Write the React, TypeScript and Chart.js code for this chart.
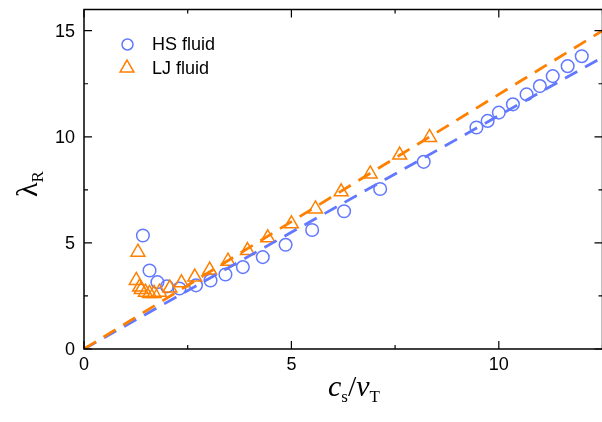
import React, { useEffect, useRef } from "react";
import { Chart, registerables } from "chart.js";

Chart.register(...registerables);

// HS fluid (circles)
const hsX = [1.42, 1.58, 1.77, 2.0, 2.3, 2.7, 3.05, 3.41, 3.83, 4.31, 4.86, 5.5, 6.27, 7.14, 8.19, 9.46, 9.73, 10.0, 10.34, 10.67, 10.99, 11.3, 11.66, 12.0];
const hsY = [5.35, 3.7, 3.15, 2.95, 2.85, 3.0, 3.23, 3.51, 3.86, 4.33, 4.91, 5.61, 6.49, 7.54, 8.82, 10.44, 10.75, 11.14, 11.53, 12.0, 12.39, 12.86, 13.33, 13.8];

// LJ fluid (triangles)
const ljX = [1.3, 1.26, 1.34, 1.38, 1.48, 1.58, 1.69, 1.82, 2.07, 2.35, 2.67, 3.03, 3.47, 3.94, 4.43, 5.0, 5.58, 6.2, 6.9, 7.61, 8.33];
const ljY = [4.56, 3.23, 2.92, 2.8, 2.68, 2.62, 2.62, 2.68, 2.87, 3.12, 3.39, 3.72, 4.14, 4.64, 5.24, 5.9, 6.6, 7.41, 8.25, 9.14, 9.97];

// dashed fit lines
const fitX = [0, 12.5];
const hsFitY = [0, 13.75];
const ljFitY = [0, 15.0];

const xTickLabels = ["0", "5", "10"];
const yTickLabels = ["0", "5", "10", "15"];

const seriesNames = ["HS fluid", "LJ fluid"];

const BLUE = "#6279ff";
const ORANGE = "#ff8000";

const pts = (xs: number[], ys: number[]) => xs.map((x, i) => ({ x, y: ys[i] }));

const SERIF = "'Liberation Serif', 'Times New Roman', serif";

const framePlugin = {
  id: "framePlugin",
  afterDraw(chart: any) {
    const ctx = chart.ctx;
    const { left, right, top, bottom } = chart.chartArea;
    const xs = chart.scales.x;
    const ys = chart.scales.y;
    ctx.save();
    ctx.strokeStyle = "#000";
    ctx.lineWidth = 1.5;
    ctx.strokeRect(left, top, right - left, bottom - top);
    // ticks
    ctx.lineWidth = 1.2;
    xs.ticks.forEach((t: any) => {
      const px = xs.getPixelForValue(t.value);
      const major = Math.abs(t.value % 5) < 1e-6;
      const len = major ? 8 : 4;
      ctx.beginPath();
      ctx.moveTo(px, bottom);
      ctx.lineTo(px, bottom - len);
      ctx.moveTo(px, top);
      ctx.lineTo(px, top + len);
      ctx.stroke();
    });
    ys.ticks.forEach((t: any) => {
      const py = ys.getPixelForValue(t.value);
      const major = Math.abs(t.value % 5) < 1e-6;
      const len = major ? 8 : 4;
      ctx.beginPath();
      ctx.moveTo(left, py);
      ctx.lineTo(left + len, py);
      ctx.moveTo(right, py);
      ctx.lineTo(right - len, py);
      ctx.stroke();
    });
    // tick labels
    ctx.fillStyle = "#000";
    ctx.font = "18px 'Liberation Sans', Arial, sans-serif";
    ctx.textAlign = "center";
    ctx.textBaseline = "top";
    xTickLabels.forEach((lab) => {
      const px = xs.getPixelForValue(Number(lab));
      ctx.fillText(lab, px, bottom + 7);
    });
    ctx.textAlign = "right";
    ctx.textBaseline = "middle";
    yTickLabels.forEach((lab) => {
      const py = ys.getPixelForValue(Number(lab));
      ctx.fillText(lab, left - 9, py + 1);
    });

    // x title: c_s / v_T
    ctx.textAlign = "left";
    ctx.textBaseline = "alphabetic";
    let cx = 328;
    const by = 396;
    ctx.font = "italic 30px " + SERIF;
    ctx.fillText("c", cx, by);
    cx += ctx.measureText("c").width;
    ctx.font = "17px " + SERIF;
    ctx.fillText("s", cx, by + 6);
    cx += ctx.measureText("s").width;
    ctx.font = "30px " + SERIF;
    ctx.fillText("/", cx, by);
    cx += ctx.measureText("/").width;
    ctx.font = "italic 30px " + SERIF;
    ctx.fillText("v", cx, by);
    cx += ctx.measureText("v").width;
    ctx.font = "17px " + SERIF;
    ctx.fillText("T", cx, by + 6);

    // y title: lambda_R rotated
    ctx.save();
    ctx.translate(37, 197);
    ctx.rotate(-Math.PI / 2);
    let ly = 0;
    ctx.font = "30px " + SERIF;
    ctx.fillText("λ", ly, 0);
    ly += ctx.measureText("λ").width;
    ctx.font = "17px " + SERIF;
    ctx.fillText("R", ly, 6);
    ctx.restore();

    // legend
    ctx.font = "18px 'Liberation Sans', Arial, sans-serif";
    ctx.textAlign = "left";
    ctx.textBaseline = "middle";
    ctx.lineWidth = 1.5;
    ctx.strokeStyle = BLUE;
    ctx.beginPath();
    ctx.arc(127.5, 44.5, 5.5, 0, Math.PI * 2);
    ctx.stroke();
    ctx.fillStyle = "#000";
    ctx.fillText(seriesNames[0], 152, 45);
    ctx.strokeStyle = ORANGE;
    const r = 8;
    const tx = 127, ty = 68;
    ctx.beginPath();
    for (let i = 0; i < 3; i++) {
      const a = (i * 2 * Math.PI) / 3;
      const px = tx + Math.sin(a) * r;
      const py = ty - Math.cos(a) * r;
      if (i === 0) ctx.moveTo(px, py);
      else ctx.lineTo(px, py);
    }
    ctx.closePath();
    ctx.stroke();
    ctx.fillText(seriesNames[1], 152, 69);
    ctx.restore();
  },
};

export default function App() {
  const ref = useRef<HTMLCanvasElement | null>(null);
  useEffect(() => {
    if (!ref.current) return;
    const chart = new Chart(ref.current, {
      type: "scatter",
      data: {
        datasets: [
          {
            label: "LJ fit",
            data: pts(fitX, ljFitY),
            showLine: true,
            borderColor: ORANGE,
            borderWidth: 2.8,
            borderDash: [14, 9],
            pointRadius: 0,
            fill: false,
          },
          {
            label: "HS fit",
            data: pts(fitX, hsFitY),
            showLine: true,
            borderColor: BLUE,
            borderWidth: 2.8,
            borderDash: [14, 9],
            pointRadius: 0,
            fill: false,
          },
          {
            label: seriesNames[1],
            data: pts(ljX, ljY),
            pointStyle: "triangle",
            pointRadius: 8,
            borderColor: ORANGE,
            backgroundColor: "rgba(0,0,0,0)",
            borderWidth: 1.5,
          },
          {
            label: seriesNames[0],
            data: pts(hsX, hsY),
            pointStyle: "circle",
            pointRadius: 6.3,
            borderColor: BLUE,
            backgroundColor: "rgba(0,0,0,0)",
            borderWidth: 1.5,
          },
        ],
      },
      options: {
        responsive: false,
        animation: false,
        events: [],
        layout: { padding: { left: 84, top: 9, right: 9, bottom: 73 } },
        plugins: { legend: { display: false }, tooltip: { enabled: false } },
        scales: {
          x: { type: "linear", min: 0, max: 12.5, display: false, ticks: { stepSize: 2.5 } },
          y: { type: "linear", min: 0, max: 16, display: false, ticks: { stepSize: 2.5 } },
        },
      },
      plugins: [framePlugin],
    });
    return () => chart.destroy();
  }, []);
  return (
    <div style={{ position: "absolute", left: 0, top: 0, width: 602, height: 422, overflow: "hidden", background: "#fff" }}>
      <canvas ref={ref} width={612} height={422} style={{ display: "block" }} />
    </div>
  );
}
